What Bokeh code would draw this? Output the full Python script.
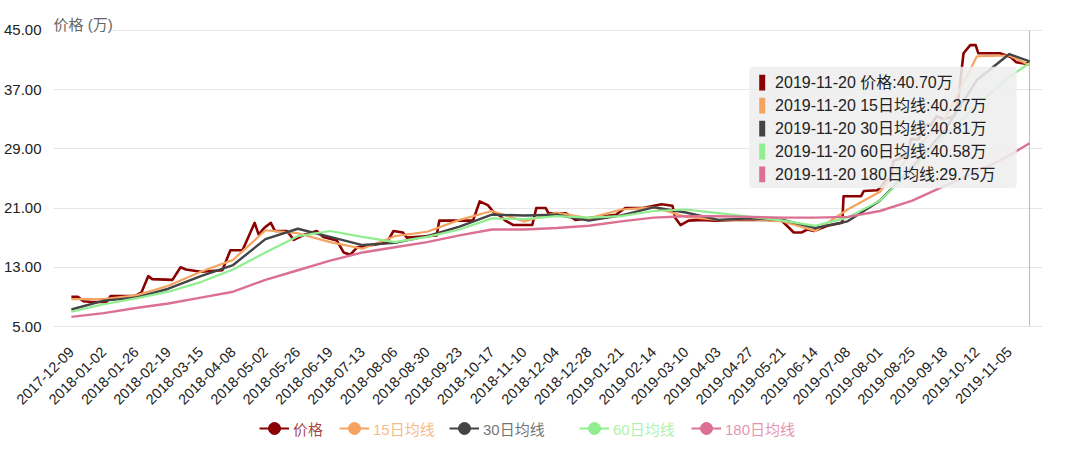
from bokeh.plotting import figure
from bokeh.layouts import column
from bokeh.models import (Range1d, FixedTicker, Legend, LegendItem, Label,
                          BoxAnnotation, PrintfTickFormatter)
from bokeh.embed import file_html
from bokeh.resources import INLINE
from math import pi

# ---------------- data (x = days since 2017-12-09) ----------------
tick_labels = ["2017-12-09", "2018-01-02", "2018-01-26", "2018-02-19", "2018-03-15",
               "2018-04-08", "2018-05-02", "2018-05-26", "2018-06-19", "2018-07-13",
               "2018-08-06", "2018-08-30", "2018-09-23", "2018-10-17", "2018-11-10",
               "2018-12-04", "2018-12-28", "2019-01-21", "2019-02-14", "2019-03-10",
               "2019-04-03", "2019-04-27", "2019-05-21", "2019-06-14", "2019-07-08",
               "2019-08-01", "2019-08-25", "2019-09-18", "2019-10-12", "2019-11-05"]
tick_days = [i * 24 for i in range(len(tick_labels))]

price_day = [0, 5, 9, 15, 26, 29, 47, 52, 57, 60, 75, 81, 85, 96, 112, 118, 127, 136,
             139, 143, 148, 151, 160, 165, 173, 182, 187, 197, 202, 207, 212, 234, 239,
             246, 249, 271, 273, 298, 303, 309, 314, 317, 322, 328, 342, 345, 352, 354,
             367, 374, 404, 411, 424, 438, 446, 448, 452, 458, 468, 477, 492, 516, 527,
             531, 536, 542, 546, 551, 561, 572, 573, 586, 588, 598, 601, 604, 608, 610,
             615, 620, 623, 629, 631, 638, 642, 647, 655, 658, 660, 662, 667, 671, 673,
             689, 697, 701, 708, 711]
price = [9.0, 9.0, 8.4, 8.3, 8.3, 9.1, 9.1, 9.6, 11.8, 11.4, 11.3, 13.0, 12.7, 12.4,
         12.6, 15.3, 15.3, 19.0, 17.4, 18.3, 19.0, 17.9, 17.9, 16.7, 17.4, 17.9, 17.1,
         16.6, 15.0, 14.7, 15.7, 16.3, 17.9, 17.7, 17.0, 17.3, 19.3, 19.3, 21.9, 21.4,
         20.3, 20.1, 19.3, 18.7, 18.7, 21.0, 21.0, 20.3, 20.3, 19.4, 20.1, 21.0, 21.0,
         21.5, 21.3, 19.7, 18.7, 19.3, 19.4, 19.3, 19.4, 19.4, 19.3, 18.6, 17.7, 17.7,
         18.1, 17.9, 18.6, 19.0, 22.6, 22.6, 23.3, 23.4, 23.9, 24.7, 25.0, 27.4, 27.7,
         28.1, 30.3, 30.3, 32.1, 32.3, 33.4, 33.0, 33.4, 35.3, 38.7, 41.9, 43.0, 43.0,
         41.9, 41.9, 41.4, 40.7, 40.5, 40.7]

ma_day = tick_days + [711]
ma15 = [8.7, 8.7, 9.2, 10.5, 12.4, 14.0, 18.0, 17.6, 16.4, 15.5, 17.2, 17.8, 19.4, 20.6,
        19.2, 20.4, 19.6, 20.8, 21.1, 19.8, 19.4, 19.5, 19.2, 17.9, 20.8, 23.2, 28.5,
        33.0, 41.5, 41.6, 40.27]
ma30 = [7.3, 8.5, 8.9, 10.1, 11.8, 13.3, 16.8, 18.2, 17.1, 16.0, 16.3, 17.2, 18.5, 20.1,
        20.0, 20.1, 19.3, 20.0, 21.1, 20.4, 19.4, 19.6, 19.4, 18.3, 19.2, 22.0, 26.5,
        31.5, 38.3, 41.8, 40.81]
ma60 = [7.0, 8.0, 8.8, 9.7, 11.0, 12.7, 15.0, 17.2, 17.9, 17.1, 16.4, 17.1, 18.1, 19.6,
        19.5, 19.9, 19.7, 19.9, 20.6, 20.8, 20.3, 19.8, 19.3, 18.6, 19.7, 22.0, 26.2,
        30.8, 34.9, 38.7, 40.58]
ma180 = [6.3, 6.8, 7.5, 8.1, 8.9, 9.7, 11.3, 12.6, 13.9, 15.0, 15.7, 16.4, 17.3, 18.1,
         18.1, 18.3, 18.6, 19.2, 19.7, 19.9, 19.9, 19.8, 19.7, 19.7, 19.8, 20.6, 22.0,
         24.0, 25.9, 28.1, 29.75]

y_ticks = [5, 13, 21, 29, 37, 45]
series_names = ["价格", "15日均线", "30日均线", "60日均线", "180日均线"]
tooltip_date = "2019-11-20"
tooltip_day = 711
tooltip_values = ["40.70", "40.27", "40.81", "40.58", "29.75"]

colors = ["#8b0000", "#f4a460", "#444444", "#90ee90", "#db7093"]
FONT = "Liberation Sans, Noto Sans CJK SC"

# ---------------- main figure ----------------
W = 1064
SC = 1.3558   # px per day (reference)
x0_px = 73    # reference pixel of day 0
FRAME_TOP = 17  # reference pixel of frame top (45 gridline at 30)


def xd(px):
    return (px - x0_px) / SC


def yd(py):
    return 5 + (330 - py) / 7.5


p = figure(width=W, height=412, output_backend="svg", toolbar_location=None,
           x_range=Range1d(xd(55), xd(1050)), y_range=Range1d(5, yd(FRAME_TOP)),
           min_border_left=47, min_border_right=22, min_border_top=FRAME_TOP,
           min_border_bottom=82)
p.outline_line_color = None
p.background_fill_color = "white"
p.border_fill_color = "white"

p.xgrid.visible = False
p.ygrid.grid_line_color = "#e6e6e6"
p.ygrid.grid_line_width = 1
p.ygrid.ticker = FixedTicker(ticks=y_ticks)

p.yaxis.ticker = FixedTicker(ticks=y_ticks)
p.yaxis.formatter = PrintfTickFormatter(format="%.2f")
p.yaxis.axis_line_color = None
p.yaxis.major_tick_line_color = None
p.yaxis.minor_tick_line_color = None
p.yaxis.major_label_text_font = FONT
p.yaxis.major_label_text_font_size = "15px"
p.yaxis.major_label_text_color = "#222222"
p.yaxis.major_label_standoff = 6

p.xaxis.ticker = FixedTicker(ticks=tick_days)
p.xaxis.major_label_overrides = {d: l for d, l in zip(tick_days, tick_labels)}
p.xaxis.major_label_orientation = pi / 4
p.xaxis.axis_line_color = "#e6e6e6"
p.xaxis.major_tick_line_color = None
p.xaxis.minor_tick_line_color = None
p.xaxis.major_label_text_font = FONT
p.xaxis.major_label_text_font_size = "14.5px"
p.xaxis.major_label_text_color = "#222222"
p.xaxis.major_label_standoff = 17

# axis pointer line at the tooltip date
p.segment(x0=[tooltip_day], y0=[y_ticks[0]], x1=[tooltip_day], y1=[y_ticks[-1]],
          line_color="#bbbbbb", line_width=1)

xs = [price_day, ma_day, ma_day, ma_day, ma_day]
ys = [price, ma15, ma30, ma60, ma180]
widths = [2.6, 2.2, 2.4, 2.2, 2.4]
for i in range(5):
    p.line(xs[i], ys[i], line_color=colors[i], line_width=widths[i], line_join="round")

# y axis name (covers the top grid line like the original)
p.add_layout(Label(x=xd(55), y=yd(24), text="价格 (万)", text_font=FONT,
                   text_font_size="15px", text_color="#666666",
                   text_baseline="middle", background_fill_color="white",
                   background_fill_alpha=1.0))

# tooltip box
p.add_layout(BoxAnnotation(left=xd(755), right=xd(1024), bottom=yd(190), top=yd(67),
                           fill_color="#eeeeee", fill_alpha=0.88, line_alpha=0,
                           border_radius=4))
for i in range(5):
    cy = 83 + 23.25 * i
    p.add_layout(BoxAnnotation(left=xd(765), right=xd(771), bottom=yd(cy + 8),
                               top=yd(cy - 8), fill_color=colors[i], fill_alpha=1,
                               line_alpha=0))
    p.add_layout(Label(x=xd(781), y=yd(cy),
                       text=f"{tooltip_date} {series_names[i]}:{tooltip_values[i]}万",
                       text_font=FONT, text_font_size="16px", text_color="#222222",
                       text_baseline="middle"))

# ---------------- legend strip ----------------
# the strip's ranges lie far away from the data, so its renderers only feed the legend
pl = figure(width=W, height=40, output_backend="svg", toolbar_location=None,
            x_axis_type=None, y_axis_type=None, x_range=Range1d(-2000, -1990),
            y_range=Range1d(-2000, -1990), min_border=0)
pl.outline_line_color = None
pl.grid.visible = False

legend_x = [206, 286, 396, 526, 638]
for i in range(5):
    r = pl.line(xs[i], ys[i], line_color=colors[i], line_width=2)
    m = pl.scatter(xs[i], ys[i], marker="circle", size=13, fill_color=colors[i],
                   line_color=colors[i])
    leg = Legend(items=[LegendItem(label=series_names[i], renderers=[r, m])],
                 location=(legend_x[i], 9), orientation="horizontal",
                 glyph_width=30, glyph_height=30, label_standoff=4,
                 label_text_font=FONT, label_text_font_size="15px",
                 label_text_color=colors[i], label_text_alpha=0.75,
                 label_text_baseline="middle",
                 background_fill_alpha=0, border_line_alpha=0,
                 padding=0, margin=0, spacing=0, label_height=30)
    pl.add_layout(leg)

layout = column(p, pl, spacing=0)
open("out.html", "w").write(file_html(layout, INLINE))
